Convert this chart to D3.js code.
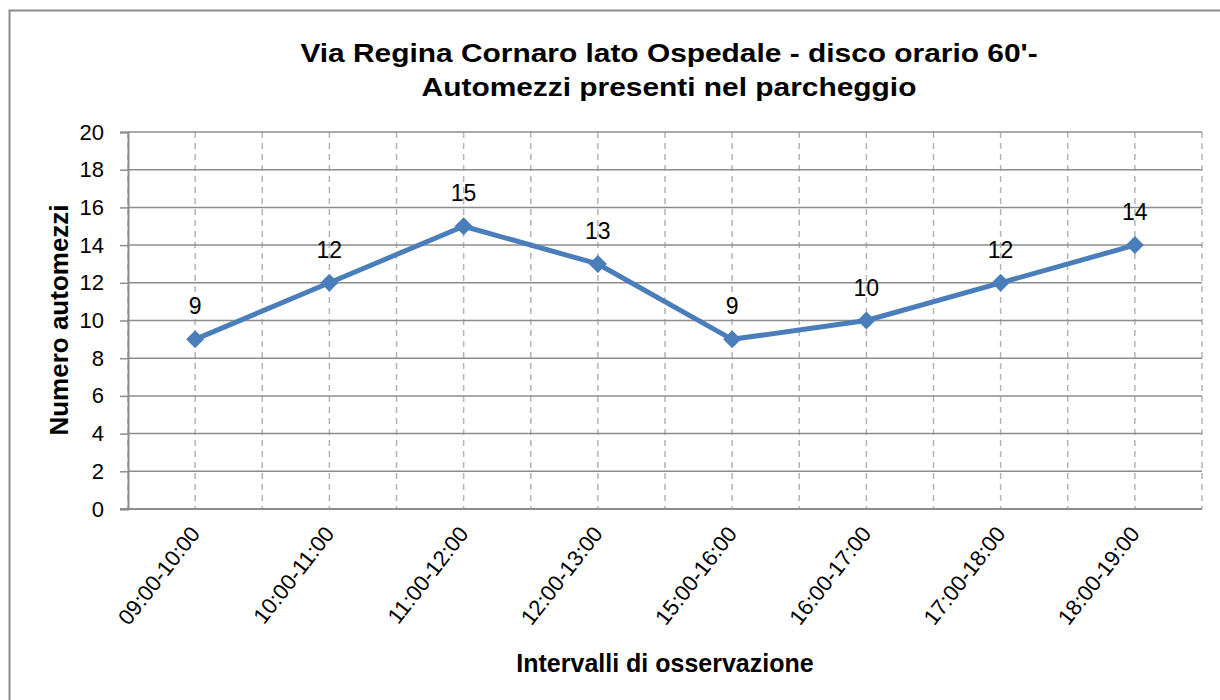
<!DOCTYPE html>
<html>
<head>
<meta charset="utf-8">
<script src="https://cdn.jsdelivr.net/npm/d3@7"></script>
<style>
  body { margin: 0; background: #fff; }
  text { font-family: "Liberation Sans", Arial, sans-serif; fill: #000; }
</style>
</head>
<body>
<div class="myViz"></div>
<script>
// data
var intervals = ["09:00-10:00", "10:00-11:00", "11:00-12:00", "12:00-13:00",
                 "15:00-16:00", "16:00-17:00", "17:00-18:00", "18:00-19:00"];
var vehicles = [9, 12, 15, 13, 9, 10, 12, 14];
var yTicks = [0, 2, 4, 6, 8, 10, 12, 14, 16, 18, 20];
var titleLines = ["Via Regina Cornaro lato Ospedale - disco orario 60'-",
                  "Automezzi presenti nel parcheggio"];

var margin = {top: 132, right: 18, bottom: 191, left: 128},
    width = 1220 - margin.left - margin.right,
    height = 700 - margin.top - margin.bottom;

var svg = d3.select(".myViz")
  .append("svg")
  .attr("width", 1220)
  .attr("height", 700);

// outer chart frame
svg.append("rect")
  .attr("x", 9.5).attr("y", 10.5)
  .attr("width", 1400).attr("height", 900)
  .attr("fill", "none")
  .attr("stroke", "#8c8c8c")
  .attr("stroke-width", 2);

var chartGroup = svg.append("g")
  .attr("transform", `translate(${margin.left}, ${margin.top})`);

var x = d3.scaleBand()
  .domain(intervals)
  .range([0, width])
  .padding(0);

var y = d3.scaleLinear()
  .domain([0, 20])
  .range([height, 0]);

var bw = x.bandwidth();
var cx = d => x(d) + bw / 2;

// vertical dashed gridlines: band edges and centers
var edges = intervals.map(d => x(d)).concat([width]);
var centers = intervals.map(cx);
chartGroup.append("g")
  .selectAll("line")
  .data(edges.concat(centers))
  .enter()
  .append("line")
    .attr("x1", d => d).attr("x2", d => d)
    .attr("y1", 0).attr("y2", height)
    .attr("stroke", "#b4b4b4")
    .attr("stroke-width", 1.5)
    .attr("stroke-dasharray", "6,5");

// horizontal gridlines
chartGroup.append("g")
  .selectAll("line")
  .data(yTicks.filter(d => d > 0))
  .enter()
  .append("line")
    .attr("x1", 0).attr("x2", width)
    .attr("y1", d => y(d)).attr("y2", d => y(d))
    .attr("stroke", "#8c8c8c")
    .attr("stroke-width", 1.5);

// Y axis
var yAxis = chartGroup.append("g")
  .call(d3.axisLeft(y).tickValues(yTicks).tickSize(8).tickPadding(16));
yAxis.select(".domain").attr("stroke", "#8c8c8c").attr("stroke-width", 2);
yAxis.selectAll(".tick line").attr("stroke", "#8c8c8c").attr("stroke-width", 1.5);
yAxis.selectAll(".tick text")
  .style("font-size", "22px")
  .style("font-family", "Liberation Sans, Arial, sans-serif")
  .attr("fill", "#000");

// X axis line
chartGroup.append("line")
  .attr("x1", -8).attr("x2", width)
  .attr("y1", height).attr("y2", height)
  .attr("stroke", "#8c8c8c")
  .attr("stroke-width", 2);

// X tick labels, rotated
chartGroup.append("g")
  .selectAll("text")
  .data(intervals)
  .enter()
  .append("text")
    .attr("transform", d => `translate(${cx(d) + 6}, ${height + 25}) rotate(-52)`)
    .attr("text-anchor", "end")
    .style("font-size", "22px")
    .text(d => d);

// line
var pts = intervals.map((d, i) => ({k: d, v: vehicles[i]}));
chartGroup.append("path")
  .datum(pts)
  .attr("d", d3.line().x(d => cx(d.k)).y(d => y(d.v)))
  .attr("fill", "none")
  .attr("stroke", "#4a7ebb")
  .attr("stroke-width", 5)
  .attr("stroke-linejoin", "round");

// diamond markers
chartGroup.append("g")
  .selectAll("path")
  .data(pts)
  .enter()
  .append("path")
    .attr("transform", d => `translate(${cx(d.k)}, ${y(d.v)})`)
    .attr("d", "M0,-9L9,0L0,9L-9,0Z")
    .attr("fill", "#4a7ebb");

// data labels
chartGroup.append("g")
  .selectAll("text")
  .data(pts)
  .enter()
  .append("text")
    .attr("x", d => cx(d.k))
    .attr("y", d => y(d.v) - 25)
    .attr("text-anchor", "middle")
    .style("font-size", "23px")
    .text(d => d.v);

// title (reference text is a bit wide, so stretch horizontally)
svg.append("g")
  .selectAll("text")
  .data(titleLines)
  .enter()
  .append("text")
    .attr("transform", (d, i) => `translate(669, ${62 + i * 34}) scale(1.15, 1)`)
    .attr("text-anchor", "middle")
    .style("font-size", "26px")
    .style("font-weight", "bold")
    .text(d => d);

// axis titles
svg.append("text")
  .attr("x", 665).attr("y", 672)
  .attr("text-anchor", "middle")
  .style("font-size", "25px")
  .style("font-weight", "bold")
  .text("Intervalli di osservazione");

svg.append("text")
  .attr("transform", "translate(68, 320) rotate(-90)")
  .attr("text-anchor", "middle")
  .style("font-size", "26px")
  .style("font-weight", "bold")
  .text("Numero automezzi");
</script>
</body>
</html>
